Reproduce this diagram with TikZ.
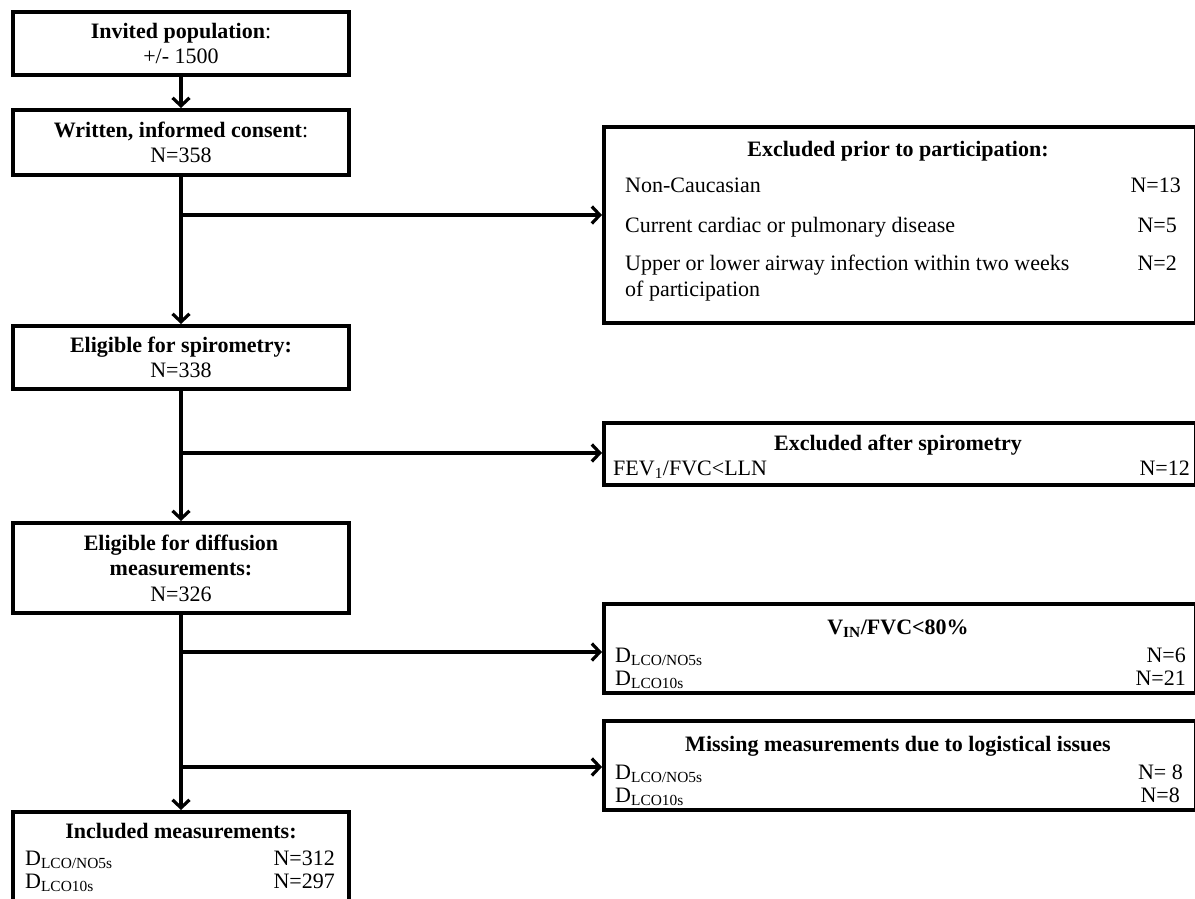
\documentclass[tikz,border=0pt]{standalone}
\usepackage{fontspec}
\setmainfont{Liberation Serif}
\usetikzlibrary{arrows.meta}
\newcommand{\fsz}{\fontsize{22}{25.5}\selectfont}
\begin{document}
\begin{tikzpicture}[x=1pt,y=-1pt,
  lbox/.style={draw, line width=3.6pt, inner sep=0pt, align=center, font=\fsz, minimum width=336.4pt},
  rbox/.style={draw, line width=3.6pt, inner sep=0pt, minimum width=592.4pt},
  txt/.style={inner sep=0pt, font=\fsz},
  arr/.style={line width=3.2pt, -{Straight Barb[length=8pt,width=17pt]}},
  conn/.style={line width=3.2pt}]
\path[use as bounding box, clip] (0,0) rectangle (1195,899);
% left column
\node[lbox, minimum height=63.4pt] (inv) at (181,43.5) {\textbf{Invited population}:\\+/- 1500};
\node[lbox, minimum height=65.4pt] (wc) at (181,142.5) {\textbf{Written, informed consent}:\\N=358};
\node[lbox, minimum height=63.4pt] (es) at (181,357.5) {\textbf{Eligible for spirometry:}\\N=338};
\node[lbox, minimum height=90.4pt] (ed) at (181,568) {\textbf{Eligible for diffusion}\\\textbf{measurements:}\\N=326};
\node[lbox, minimum height=116.4pt] (inc) at (181,870) {};
\node[txt, anchor=base] (inct) at (181,838) {\textbf{Included measurements:}};
\node[txt, anchor=base west] (inca) at (25,865) {D\textsubscript{LCO/NO5s}};
\node[txt, anchor=base east] (incan) at (335,865) {N=312};
\node[txt, anchor=base west] (incb) at (25,888) {D\textsubscript{LCO10s}};
\node[txt, anchor=base east] (incbn) at (335,888) {N=297};
% right column
\node[rbox, minimum height=196.4pt] (ex1) at (900,225) {};
\node[txt, anchor=base] (ex1t) at (898,156) {\textbf{Excluded prior to participation:}};
\node[txt, anchor=base west] (ex1a) at (625,192) {Non-Caucasian};
\node[txt, anchor=base east] (ex1an) at (1181,192) {N=13};
\node[txt, anchor=base west] (ex1b) at (625,232) {Current cardiac or pulmonary disease};
\node[txt, anchor=base east] (ex1bn) at (1177,232) {N=5};
\node[txt, anchor=north west, align=left] (ex1c) at (625,255) {Upper or lower airway infection within two weeks\\of participation};
\node[txt, anchor=base east] (ex1cn) at (1177,270) {N=2};
\node[rbox, minimum height=62.4pt] (ex2) at (900,454) {};
\node[txt, anchor=base] (ex2t) at (898,450) {\textbf{Excluded after spirometry}};
\node[txt, anchor=base west] (ex2a) at (613,475) {FEV\textsubscript{1}/FVC<LLN};
\node[txt, anchor=base east] (ex2an) at (1190,475) {N=12};
\node[rbox, minimum height=89.4pt] (ex3) at (900,648.5) {};
\node[txt, anchor=base] (ex3t) at (898,634) {\textbf{V\textsubscript{IN}/FVC<80\%}};
\node[txt, anchor=base west] (ex3a) at (615,662) {D\textsubscript{LCO/NO5s}};
\node[txt, anchor=base east] (ex3an) at (1186,662) {N=6};
\node[txt, anchor=base west] (ex3b) at (615,685) {D\textsubscript{LCO10s}};
\node[txt, anchor=base east] (ex3bn) at (1186,685) {N=21};
\node[rbox, minimum height=89.4pt] (ex4) at (900,765.5) {};
\node[txt, anchor=base] (ex4t) at (898,751) {\textbf{Missing measurements due to logistical issues}};
\node[txt, anchor=base west] (ex4a) at (615,779) {D\textsubscript{LCO/NO5s}};
\node[txt, anchor=base east] (ex4an) at (1183,779) {N= 8};
\node[txt, anchor=base west] (ex4b) at (615,802) {D\textsubscript{LCO10s}};
\node[txt, anchor=base east] (ex4bn) at (1180,802) {N=8};
% connectors
\coordinate (b1) at (181,215);
\coordinate (b2) at (181,453);
\coordinate (b3) at (181,652);
\coordinate (b4) at (181,767);
\draw[arr] (inv.south) -- (wc.north);
\draw[arr] (wc.south) -- (es.north);
\draw[arr] (es.south) -- (ed.north);
\draw[arr] (ed.south) -- (inc.north);
\draw[arr] (b1) -- (b1 -| ex1.west);
\draw[arr] (b2) -- (b2 -| ex2.west);
\draw[arr] (b3) -- (b3 -| ex3.west);
\draw[arr] (b4) -- (b4 -| ex4.west);
\end{tikzpicture}
\end{document}
